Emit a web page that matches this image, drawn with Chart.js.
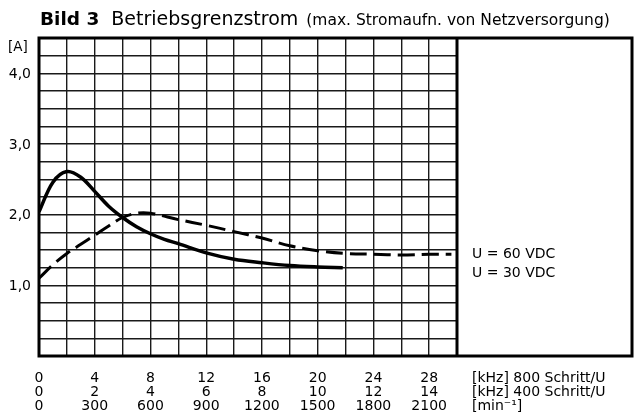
<!DOCTYPE html>
<html>
<head>
<meta charset="utf-8">
<script src="https://cdn.jsdelivr.net/npm/chart.js@4.4.1/dist/chart.umd.min.js"></script>
<style>
  html, body { margin: 0; padding: 0; background: #fff; }
  #wrap { width: 634px; height: 418px; position: relative; }
</style>
</head>
<body>
<div id="wrap"><canvas id="chart" width="634" height="418"></canvas></div>
<script>
// Frequency in kHz (800 Schritt/U scale), current in A
const freq60 = [0, 1, 2, 3, 4, 5, 6, 7, 8, 10, 12, 14, 16, 18, 20, 22, 24, 26, 28, 29.6];
const current60 = [1.10, 1.29, 1.45, 1.58, 1.71, 1.84, 1.96, 2.02, 2.02, 1.93, 1.85, 1.76, 1.67, 1.56, 1.49, 1.45, 1.44, 1.43, 1.44, 1.44];

const freq30 = [0, 1, 2, 3, 4, 5, 6, 7, 8, 9, 10, 12, 14, 16, 18, 20, 21.8];
const current30 = [2.04, 2.46, 2.61, 2.53, 2.33, 2.12, 1.96, 1.83, 1.73, 1.65, 1.59, 1.46, 1.37, 1.32, 1.28, 1.26, 1.25];

const seriesNames = ["U = 60 VDC", "U = 30 VDC"];

// x tick positions (kHz at 800 Schritt/U) and the three label rows
const xTickPos = [0, 4, 8, 12, 16, 20, 24, 28];
const xLabels800 = ["0", "4", "8", "12", "16", "20", "24", "28"];
const xLabels400 = ["0", "2", "4", "6", "8", "10", "12", "14"];
const xLabelsRpm = ["0", "300", "600", "900", "1200", "1500", "1800", "2100"];
const xUnitLabels = ["[kHz] 800 Schritt/U", "[kHz] 400 Schritt/U", "[min\u207B\u00B9]"];

const yTickPos = [1, 2, 3, 4];
const yLabels = ["1,0", "2,0", "3,0", "4,0"];
const yUnit = "[A]";

const titleBold = "Bild 3";
const titleMain = "Betriebsgrenzstrom";
const titleSub = "(max. Stromaufn. von Netzversorgung)";

const FONT = "'DejaVu Sans', sans-serif";

const toPoints = (xs, ys) => xs.map((x, i) => ({ x: x, y: ys[i] }));

// draws the frame, the side panel and all the text
const decorPlugin = {
  id: "decor",
  afterDatasetsDraw(chart) {
    const ctx = chart.ctx;
    const area = chart.chartArea;
    const xs = chart.scales.x;
    const ys = chart.scales.y;
    const outerRight = chart.width - 2;

    ctx.save();
    // frame
    ctx.strokeStyle = "#000";
    ctx.lineWidth = 3;
    ctx.strokeRect(area.left, area.top, outerRight - area.left, area.bottom - area.top);
    ctx.beginPath();
    ctx.moveTo(area.right, area.top);
    ctx.lineTo(area.right, area.bottom);
    ctx.stroke();

    ctx.fillStyle = "#000";
    ctx.textBaseline = "alphabetic";

    // title
    ctx.textAlign = "left";
    let tx = area.left + 1;
    ctx.font = "bold 18.5px " + FONT;
    ctx.fillText(titleBold, tx, 25);
    tx += ctx.measureText(titleBold).width + 12;
    ctx.font = "19px " + FONT;
    ctx.fillText(titleMain, tx, 25);
    tx += ctx.measureText(titleMain).width + 8;
    ctx.font = "15.5px " + FONT;
    ctx.fillText(titleSub, tx, 25);

    // y labels
    ctx.font = "14px " + FONT;
    ctx.textAlign = "right";
    ctx.textBaseline = "middle";
    yTickPos.forEach((v, i) => {
      ctx.fillText(yLabels[i], area.left - 8, ys.getPixelForValue(v) + 1);
    });
    ctx.textAlign = "left";
    ctx.font = "13.5px " + FONT;
    ctx.fillText(yUnit, 8, area.top + 9);

    // x label rows
    ctx.font = "14px " + FONT;
    ctx.textAlign = "center";
    const rows = [xLabels800, xLabels400, xLabelsRpm];
    rows.forEach((labels, r) => {
      const y = area.bottom + 22 + r * 14;
      xTickPos.forEach((v, i) => {
        ctx.fillText(labels[i], xs.getPixelForValue(v), y);
      });
    });
    ctx.textAlign = "left";
    xUnitLabels.forEach((t, r) => {
      ctx.fillText(t, area.right + 15, area.bottom + 22 + r * 14);
    });

    // series labels in side panel
    ctx.font = "14px " + FONT;
    ctx.fillText(seriesNames[0], area.right + 15, 254);
    ctx.fillText(seriesNames[1], area.right + 15, 273);
    ctx.restore();
  }
};

new Chart(document.getElementById("chart"), {
  type: "line",
  data: {
    datasets: [
      {
        label: seriesNames[0],
        data: toPoints(freq60, current60),
        borderColor: "#000",
        borderWidth: 3,
        borderDash: [17, 7],
        pointRadius: 0,
        tension: 0.35,
        fill: false,
      },
      {
        label: seriesNames[1],
        data: toPoints(freq30, current30),
        borderColor: "#000",
        borderWidth: 3.5,
        pointRadius: 0,
        tension: 0.35,
        fill: false,
      },
    ],
  },
  options: {
    responsive: false,
    animation: false,
    layout: { padding: { left: 39, top: 38, right: 177, bottom: 62 } },
    plugins: { legend: { display: false }, tooltip: { enabled: false } },
    scales: {
      x: {
        type: "linear",
        min: 0,
        max: 30,
        ticks: { display: false, stepSize: 2 },
        grid: { color: "#1a1a1a", lineWidth: 1.4, drawTicks: false },
        border: { display: false },
      },
      y: {
        type: "linear",
        min: 0,
        max: 4.5,
        ticks: { display: false, stepSize: 0.25 },
        grid: { color: "#1a1a1a", lineWidth: 1.4, drawTicks: false },
        border: { display: false },
      },
    },
  },
  plugins: [decorPlugin],
});
</script>
</body>
</html>
